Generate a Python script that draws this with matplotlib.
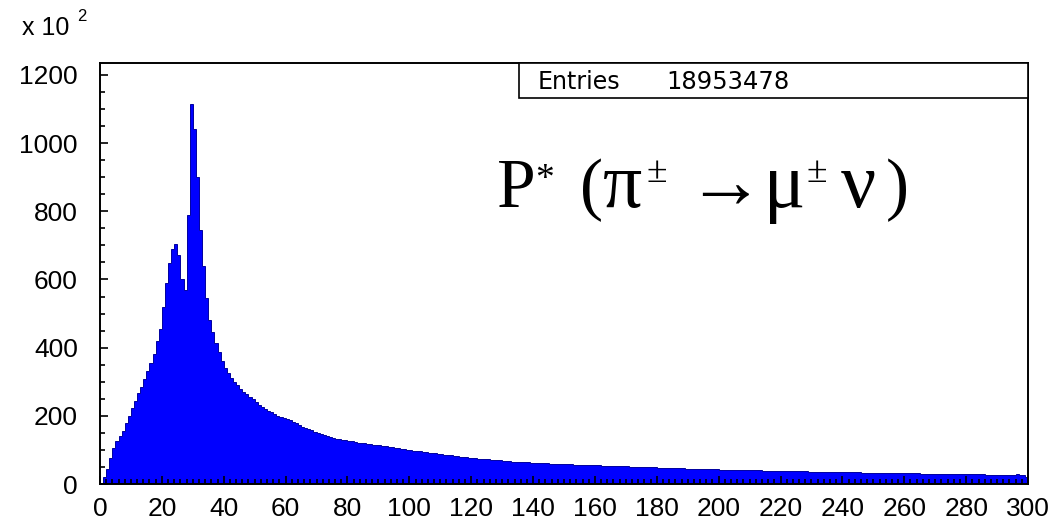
import numpy as np
import matplotlib
matplotlib.use("Agg")
import matplotlib.pyplot as plt
from matplotlib.ticker import MultipleLocator

# momentum spectrum, counts in units of 10^2, 1 unit wide bins from 0 to 300
bin_edges = np.arange(0, 301, 1)
counts = [
    3, 20, 45, 75, 105, 125, 140, 155, 180, 200,
    222, 244, 266, 285, 308, 332, 356, 380, 420, 455,
    520, 590, 648, 690, 703, 672, 600, 568, 790, 1115,
    1040, 900, 745, 640, 545, 480, 445, 415, 388, 362,
    340, 325, 312, 300, 290, 280, 271, 263, 256, 248,
    240, 233, 227, 221, 215, 210, 205, 200, 197, 193,
    190, 187, 183, 178, 172, 168, 164, 160, 157, 153,
    149, 146, 143, 140, 137, 135, 133, 131, 129, 128,
    127, 125, 123, 121, 120, 119, 118, 116, 115, 114,
    113, 112, 111, 110, 108, 107, 105, 104, 102, 100,
    99, 98, 97, 96, 95, 93, 92, 91, 90, 88,
    87, 86, 85, 84, 83, 82, 80, 79, 78, 77,
    76, 75, 74, 73, 72, 72, 71, 70, 69, 69,
    68, 67, 67, 66, 66, 65, 65, 64, 64, 63,
    63, 62, 62, 61, 61, 60, 60, 60, 59, 59,
    58, 58, 58, 57, 57, 57, 56, 56, 56, 55,
    55, 55, 54, 54, 54, 53, 53, 53, 52, 52,
    52, 51, 51, 51, 50, 50, 50, 49, 49, 49,
    48, 48, 48, 47, 47, 47, 46, 46, 46, 45,
    45, 45, 44, 44, 44, 44, 43, 43, 43, 43,
    42, 42, 42, 42, 41, 41, 41, 41, 41, 40,
    40, 40, 40, 40, 39, 39, 39, 39, 39, 38,
    38, 38, 38, 38, 37, 37, 37, 37, 37, 36,
    36, 36, 36, 36, 36, 35, 35, 35, 35, 35,
    35, 34, 34, 34, 34, 34, 33, 33, 33, 33,
    33, 33, 32, 32, 32, 32, 32, 32, 31, 31,
    31, 31, 31, 31, 31, 30, 30, 30, 30, 30,
    30, 30, 29, 29, 29, 29, 29, 29, 29, 28,
    28, 28, 28, 28, 28, 28, 27, 27, 27, 27,
    27, 27, 27, 26, 26, 26, 28, 26, 27, 22,
]
n_entries = 18953478

W, H = 1061, 522
fig = plt.figure(figsize=(W / 100, H / 100), dpi=100)
ax = fig.add_axes([100 / W, 1 - 484 / H, 928 / W, 421 / H])

# one filled outline, no internal bin edges
ax.stairs(counts, bin_edges, fill=True, facecolor="#0000ff",
          edgecolor="#0000a0", lw=0.7)

ax.set_xlim(0, 300)
ax.set_ylim(0, 1235)

sans = "Liberation Sans"
ax.xaxis.set_major_locator(MultipleLocator(20))
ax.xaxis.set_minor_locator(MultipleLocator(2))
ax.yaxis.set_major_locator(MultipleLocator(200))
ax.yaxis.set_minor_locator(MultipleLocator(50))
ax.tick_params(which="both", direction="in", top=False, right=False,
               color="black", width=1.2)
ax.tick_params(which="major", length=6)
ax.tick_params(which="minor", length=3.5)
ax.tick_params(axis="y", which="major", pad=16, labelsize=19)
ax.tick_params(axis="x", which="major", pad=9, labelsize=19)
for lab in ax.get_xticklabels() + ax.get_yticklabels():
    lab.set_fontfamily(sans)
for sp in ax.spines.values():
    sp.set_linewidth(1.4)

# axis multiplier in the top left corner
fig.text(22 / W, 1 - 35 / H, "x 10", family=sans, fontsize=18, va="baseline")
fig.text(77 / W, 1 - 21 / H, "2", family=sans, fontsize=12, va="baseline")

# statistics box
bx0 = 519 / W
bw = 1028 / W - bx0
by0 = 1 - 98 / H
bh = 35 / H
fig.patches.append(plt.Rectangle((bx0, by0), bw, bh, transform=fig.transFigure,
                                 fill=True, facecolor="white", edgecolor="black",
                                 lw=1.2, zorder=5))
fig.text(538 / W, 1 - 89 / H, "Entries", family="DejaVu Sans", fontsize=17,
         va="baseline", zorder=6)
fig.text(666 / W, 1 - 89 / H, str(n_entries), family="DejaVu Sans",
         fontsize=17.5, va="baseline", zorder=6)

# decay label, pieces laid out left to right with raised superscripts
serif = ["Liberation Serif", "DejaVu Serif"]
base = 1 - 207 / H
big, greek, small = 50, 56, 27
pieces = [
    ("P", 497, base, big),
    ("*", 535, 1 - 189 / H, small),
    ("(", 580, base, big),
    ("\u03c0", 603, base, greek),
    ("\u00b1", 647, 1 - 182 / H, small),
    ("\u2192\u03bc", 686, base, greek),
    ("\u00b1", 806, 1 - 182 / H, small),
    ("\u03bd", 841, base, greek),
    (")", 886, base, big),
]
for s, px, py, fs in pieces:
    fig.text(px / W, py, s, family=serif, fontsize=fs, va="baseline", ha="left")

fig.savefig("out.png", dpi=100)
